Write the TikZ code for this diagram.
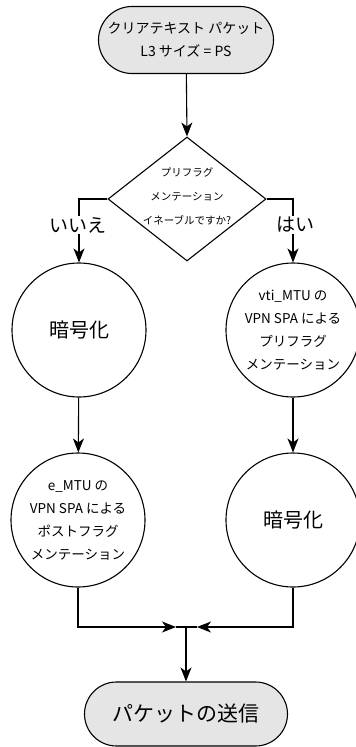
\documentclass[tikz,border=0pt]{standalone}
\usepackage{fontspec}
\setmainfont{Noto Sans CJK JP}
\usetikzlibrary{shapes.geometric,shapes.misc,arrows.meta}
\begin{document}
\begin{tikzpicture}[x=1pt,y=-1pt,
  line width=1.1pt,
  arr/.style={-{Stealth[length=14pt,width=11pt,inset=4pt]}},
  term/.style={draw,rounded rectangle,fill=gray!20,inner sep=0pt,align=center},
  circ/.style={draw,circle,minimum size=134pt,inner sep=0pt,align=center},
  ctext/.style={font=\fontsize{13.5}{23}\selectfont},
  lbl/.style={fill=white,inner sep=1pt,font=\fontsize{19}{19}\selectfont}]
\useasboundingbox (0,0) rectangle (356,747);
\node[term,minimum width=175pt,minimum height=67pt,font=\fontsize{14}{23}\selectfont] (start) at (186,40)
  {クリアテキスト パケット\\L3 サイズ = PS};
\node[draw,diamond,minimum width=158pt,minimum height=124pt,inner sep=0pt] (dec) at (187,199) {};
\node[align=center,font=\fontsize{10.5}{24}\selectfont] (dectext) at (187,196)
  {プリフラグ\\メンテーション\\イネーブルですか?};
\node[circ,font=\fontsize{20}{20}\selectfont] (encL) at (79,330) {暗号化};
\node[circ,ctext] (preR) at (293,330) {vti\_MTU の\\VPN SPA による\\プリフラグ\\メンテーション};
\node[circ,ctext] (postL) at (78,520) {e\_MTU の\\VPN SPA による\\ポストフラグ\\メンテーション};
\node[circ,font=\fontsize{20}{20}\selectfont] (encR) at (293,520) {暗号化};
\node[term,minimum width=203pt,minimum height=64pt,font=\fontsize{21}{21}\selectfont] (send) at (186,714) {パケットの送信};
\coordinate (mL) at (176,627);
\coordinate (mR) at (197,627);
\coordinate (mC) at (186,627);
\draw[arr] (start) -- (dec.north);
\draw[arr] (dec.west) -| (encL.north);
\draw[arr] (dec.east) -| (preR.north);
\node[lbl] (no) at (78,225) {いいえ};
\node[lbl] (yes) at (295,225) {はい};
\draw[arr] (encL) -- (postL);
\draw[arr] (preR) -- (encR);
\draw[arr] (postL.south) |- (mL);
\draw[arr] (encR.south) |- (mR);
\draw (mL) -- (mR);
\draw[arr] (mC) -- (send.north);
\end{tikzpicture}
\end{document}
